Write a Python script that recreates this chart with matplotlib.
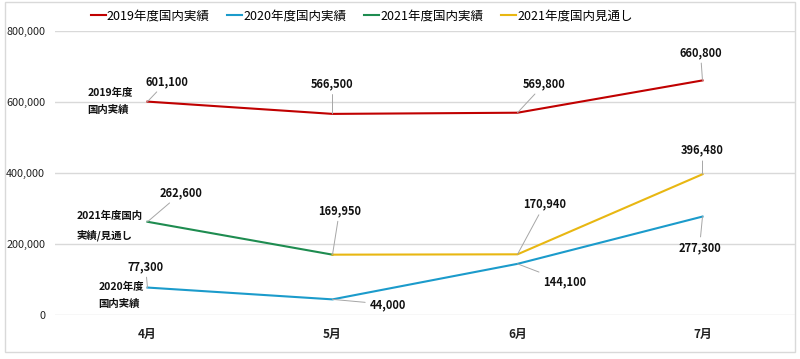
import matplotlib
matplotlib.use("Agg")
import matplotlib.pyplot as plt
from matplotlib.patches import FancyBboxPatch

plt.rcParams["font.family"] = ["Noto Sans CJK JP", "DejaVu Sans"]

months = ["4月", "5月", "6月", "7月"]
y2019 = [601100, 566500, 569800, 660800]
y2020 = [77300, 44000, 144100, 277300]
y2021_actual = [262600, 169950]
y2021_forecast = [169950, 170940, 396480]

# label offsets in pixels (dx, dy) from each point
off2019 = [(19, 20), (0, 30), (27, 29), (-2, 28)]
off2020 = [(-2, 21), (55, -5), (47, -18), (-3, -31)]
off2021a = [(34, 29), (7, 44)]
off2021f = [(27, 50), (0, 24)]

red = "#C00000"
blue = "#1B9BCB"
green = "#1E8C50"
yellow = "#E8B712"

fig = plt.figure(figsize=(8, 3.59), dpi=100)
ax = fig.add_axes([55 / 800, 1 - 315 / 359, 740 / 800, 284 / 359])

x = list(range(len(months)))
ax.plot(x, y2019, color=red, lw=1.5, label="2019年度国内実績", zorder=3)
ax.plot(x, y2020, color=blue, lw=1.5, label="2020年度国内実績", zorder=3)
ax.plot(x[:2], y2021_actual, color=green, lw=1.5, label="2021年度国内実績", zorder=3)
ax.plot(x[1:], y2021_forecast, color=yellow, lw=1.5, label="2021年度国内見通し", zorder=3)

ax.set_xlim(-0.5, 3.5)
ax.set_ylim(0, 800000)
ax.set_yticks([0, 200000, 400000, 600000, 800000])
ax.set_yticklabels([f"{v:,}" for v in ax.get_yticks().astype(int)])
ax.set_xticks(x)
ax.set_xticklabels(months, fontweight="bold")
ax.grid(axis="y", color="#d9d9d9", lw=1)
ax.set_axisbelow(True)
for s in ax.spines.values():
    s.set_visible(False)
ax.tick_params(length=0, labelsize=8.5, colors="#222222")
ax.tick_params(axis="y", labelsize=7.8, pad=7)
ax.tick_params(axis="x", pad=9)


def label_points(xs, ys, offs):
    for xi, yi, (dx, dy) in zip(xs, ys, offs):
        ax.annotate(f"{yi:,}", xy=(xi, yi), xytext=(dx, dy), textcoords="offset pixels",
                    ha="center", va="center", fontsize=8, fontweight="bold", color="#111111",
                    arrowprops=dict(arrowstyle="-", color="#a6a6a6", lw=0.7, shrinkA=1, shrinkB=0))


label_points(x, y2019, off2019)
label_points(x, y2020, off2020)
label_points(x[:2], y2021_actual, off2021a)
label_points(x[2:], y2021_forecast[1:], off2021f)

# series name labels near 4月
names = [("2019年度\n国内実績", y2019[0], (-60, 0)),
         ("2021年度国内\n実績/見通し", y2021_actual[0], (-71, -4)),
         ("2020年度\n国内実績", y2020[0], (-49, -8))]
for txt, yv, (dx, dy) in names:
    ax.annotate(txt, xy=(0, yv), xytext=(dx, dy), textcoords="offset pixels",
                ha="left", va="center", fontsize=7.5, fontweight="bold",
                color="#111111", linespacing=1.9)

fig.legend(loc="center", bbox_to_anchor=(0.452, 0.955), ncol=4, frameon=False,
           fontsize=9, handlelength=1.2, handletextpad=0.1, columnspacing=1.4)

frame = FancyBboxPatch((5 / 800, 7 / 359), 790 / 800, 350 / 359,
                       boxstyle="square,pad=0", transform=fig.transFigure,
                       fill=False, edgecolor="#d9d9d9", lw=1)
fig.patches.append(frame)

fig.savefig("out.png", dpi=100)
